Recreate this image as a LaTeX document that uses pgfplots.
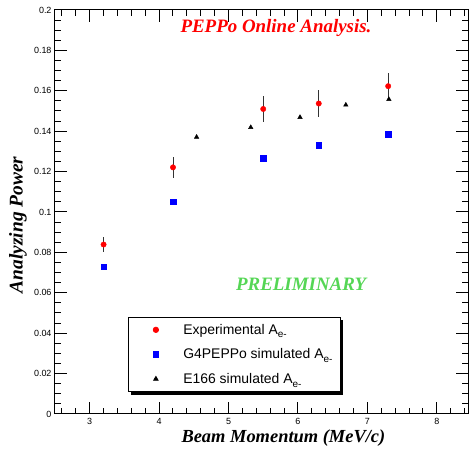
\documentclass[border=0pt]{standalone}
\usepackage{fontspec}
\setmainfont{Liberation Sans}
\newfontfamily\timesfont{Liberation Serif}
\usepackage{pgfplots}
\pgfplotsset{compat=1.18}

\definecolor{prelgreen}{RGB}{85,214,85}
\definecolor{rootred}{RGB}{255,0,0}
\definecolor{rootblue}{RGB}{0,0,255}
\newcommand{\Aem}{A\raisebox{-0.5ex}{\fontsize{10}{10}\selectfont e-}}
\tikzset{tickpen/.style={black, line width=1bp}}

\begin{document}
\begin{tikzpicture}
\begin{axis}[
    scale only axis,
    width=413bp, height=404bp,
    xmin=2.5, xmax=8.45,
    ymin=0, ymax=0.2,
    axis line style={line width=1bp},
    tick align=inside,
    major tick length=12bp,
    minor tick length=6bp,
    tick style={black, line width=1bp},
    xtick={3,4,5,6,7,8},
    xticklabels={3,4,5,6,7,8},
    minor x tick num=4,
    ytick={0,0.02,0.04,0.06,0.08,0.1,0.12,0.14,0.16,0.18,0.2},
    yticklabels={0,0.02,0.04,0.06,0.08,0.1,0.12,0.14,0.16,0.18,0.2},
    minor y tick num=3,
    tick label style={font=\fontsize{9}{9}\selectfont},
    xticklabel style={yshift=-1bp},
    xlabel={\timesfont\bfseries\itshape Beam Momentum (MeV/c)},
    ylabel={\timesfont\bfseries\itshape Analyzing Power},
    xlabel style={font=\fontsize{18.5}{18.5}\selectfont,
        at={(axis description cs:0.553,-0.059)}, anchor=center},
    ylabel style={font=\fontsize{19.5}{19.5}\selectfont,
        at={(axis description cs:-0.0896,0.468)}, anchor=center},
    legend image code/.code={%
        \path (0bp,0bp) (27bp,0bp);
        \draw[#1] plot coordinates {(19bp,0bp)};},
    legend style={
        at={(axis description cs:0.177,0.241)}, anchor=north west,
        draw=black, line width=0.8bp, fill=white,
        font=\fontsize{14}{14}\selectfont,
        nodes={inner sep=0pt},
        row sep=13bp, column sep=19bp,
        inner xsep=8bp, inner ysep=7bp,
        legend cell align=left,
    },
]
% ROOT style ticks on all four sides
\pgfplotsinvokeforeach{3,4,5,6,7,8}{
    \draw[tickpen] (axis cs:#1,0) -- ++(0bp,12bp);
    \draw[tickpen] (axis cs:#1,0.2) -- ++(0bp,-12bp);
}
\pgfplotsinvokeforeach{2.6,2.8,3.2,3.4,3.6,3.8,4.2,4.4,4.6,4.8,5.2,5.4,5.6,5.8,
                       6.2,6.4,6.6,6.8,7.2,7.4,7.6,7.8,8.2,8.4}{
    \draw[tickpen] (axis cs:#1,0) -- ++(0bp,6bp);
    \draw[tickpen] (axis cs:#1,0.2) -- ++(0bp,-6bp);
}
\pgfplotsinvokeforeach{0,0.02,0.04,0.06,0.08,0.1,0.12,0.14,0.16,0.18,0.2}{
    \draw[tickpen] (axis cs:2.5,#1) -- ++(12bp,0bp);
    \draw[tickpen] (axis cs:8.45,#1) -- ++(-12bp,0bp);
}
\pgfplotsinvokeforeach{0.005,0.01,0.015,0.025,0.03,0.035,0.045,0.05,0.055,
                       0.065,0.07,0.075,0.085,0.09,0.095,0.105,0.11,0.115,
                       0.125,0.13,0.135,0.145,0.15,0.155,0.165,0.17,0.175,
                       0.185,0.19,0.195}{
    \draw[tickpen] (axis cs:2.5,#1) -- ++(6bp,0bp);
    \draw[tickpen] (axis cs:8.45,#1) -- ++(-6bp,0bp);
}

% shadow behind the legend box
\fill[black] (axis description cs:0.1843,0.2336) rectangle (axis description cs:0.6973,0.0466);

% Experimental
\addplot[only marks, mark=*, mark size=2.7bp, color=rootred,
    error bars/.cd, y dir=both, y explicit,
    error mark=none, error bar style={black!80, line width=0.9bp}]
coordinates {
    (3.2,0.0839) +- (0,0.0035)
    (4.2,0.1221) +- (0,0.0052)
    (5.5,0.1510) +- (0,0.0064)
    (6.3,0.1537) +- (0,0.0066)
    (7.3,0.1623) +- (0,0.0065)
};
\addlegendentry{Experimental \Aem}

% G4PEPPo simulation
\addplot[only marks, mark=square*, mark size=2.7bp, color=rootblue]
coordinates {
    (3.2,0.0730)
    (4.2,0.1052)
    (5.5,0.1266)
    (6.3,0.1330)
    (7.3,0.1385)
};
\addlegendentry{G4PEPPo simulated \Aem}

% E166 simulation
\addplot[only marks, mark=triangle*, mark size=2.6bp, color=black]
coordinates {
    (4.54,0.1371)
    (5.32,0.1419)
    (6.03,0.1469)
    (6.69,0.1530)
    (7.31,0.1558)
};
\addlegendentry{E166 simulated \Aem}

\node[text=rootred, font=\timesfont\bfseries\itshape\fontsize{19}{19}\selectfont]
    at (axis description cs:0.535,0.955) {PEPPo Online Analysis.};
\node[text=prelgreen, font=\timesfont\bfseries\itshape\fontsize{19}{19}\selectfont]
    at (axis description cs:0.596,0.322) {PRELIMINARY};
\end{axis}
\pgfresetboundingbox
\useasboundingbox (-55bp,-35bp) rectangle (417bp,414bp);
\end{tikzpicture}
\end{document}
